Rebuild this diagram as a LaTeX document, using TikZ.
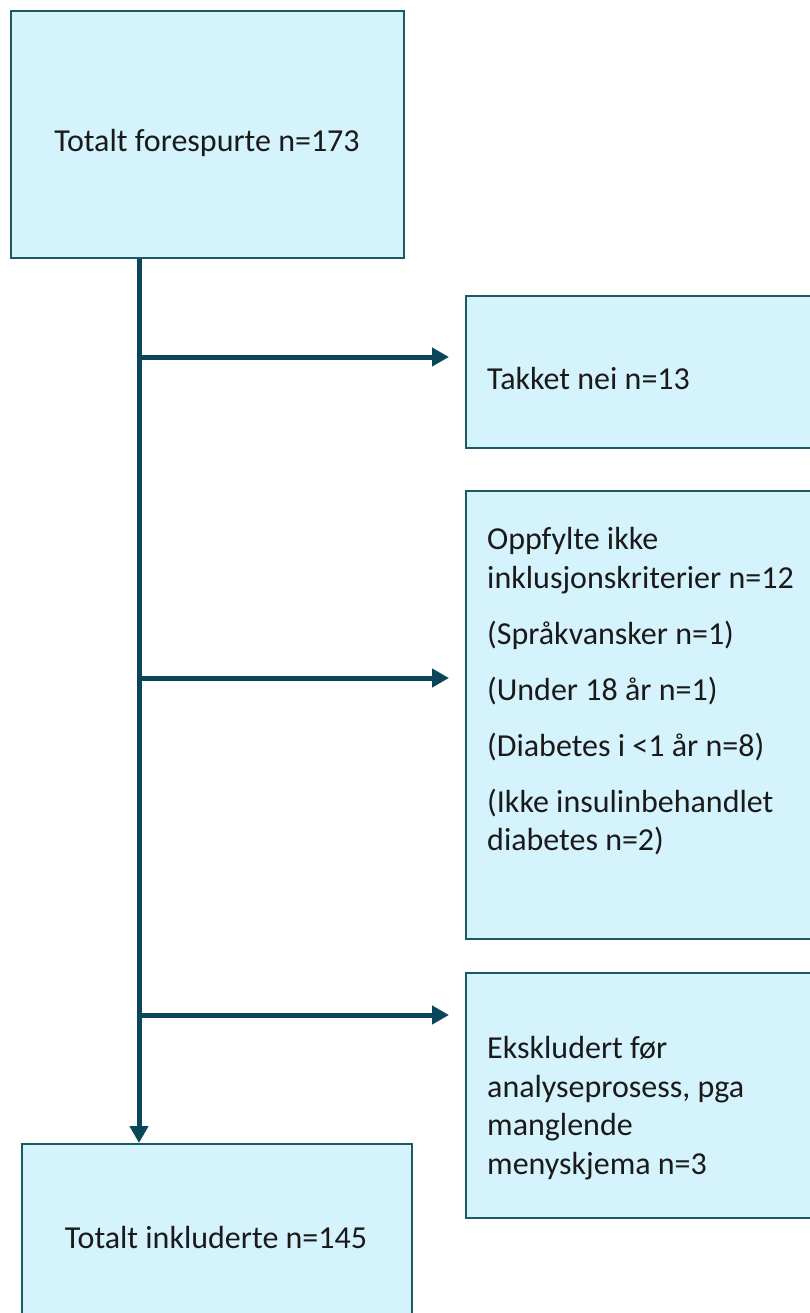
\documentclass[tikz,border=0pt]{standalone}
\usepackage{fontspec}
\setmainfont{Carlito}
\usetikzlibrary{arrows.meta}
\definecolor{boxfill}{HTML}{D5F3FD}
\definecolor{boxline}{HTML}{1B5963}
\definecolor{arrowcol}{HTML}{0A4659}
\definecolor{txt}{HTML}{1A1A1A}
\tikzset{
  flowbox/.style={draw=boxline, fill=boxfill, line width=2pt, rectangle, inner sep=0pt, anchor=north west},
  boxtext/.style={text=txt, font=\fontsize{32}{38.5}\selectfont, inner sep=0pt},
  flowline/.style={draw=arrowcol, line width=5pt},
  flowarrow/.style={flowline, -{Triangle[length=17pt,width=18pt]}},
}
\begin{document}
\begin{tikzpicture}[x=1pt,y=-1pt]
\useasboundingbox (0,0) rectangle (810,1313);
\clip (0,0) rectangle (810,1313);
% boxes
\node[flowbox, minimum width=393pt, minimum height=247pt] (top) at (10,10) {};
\node[flowbox, minimum width=360pt, minimum height=152pt] (takket) at (465,295) {};
\node[flowbox, minimum width=360pt, minimum height=448pt] (oppfylte) at (465,490) {};
\node[flowbox, minimum width=360pt, minimum height=245pt] (eksk) at (465,972) {};
\node[flowbox, minimum width=390pt, minimum height=200pt] (bottom) at (21,1143) {};
% texts
\node[boxtext, anchor=base] (ttop) at (207,152) {Totalt forespurte n=173};
\node[boxtext, anchor=base west] (ttakket) at (487,389) {Takket nei n=13};
\node[boxtext, anchor=north west, align=left] (toppf) at (487,527.5) {Oppfylte ikke\\inklusjonskriterier n=12\\[17.5pt](Språkvansker n=1)\\[17.5pt](Under 18 år n=1)\\[17.5pt](Diabetes i <1 år n=8)\\[17.5pt](Ikke insulinbehandlet\\diabetes n=2)};
\node[boxtext, anchor=north west, align=left] (teksk) at (487,1036.5) {Ekskludert før\\analyseprosess, pga\\manglende\\menyskjema n=3};
\node[boxtext, anchor=base] (tbottom) at (216,1248) {Totalt inkluderte n=145};
% junctions
\coordinate (j1) at (139,357);
\coordinate (j2) at (139,678);
\coordinate (j3) at (139,1015);
% connectors
\draw[flowarrow] (top.south -| j1) -- (bottom.north -| j1);
\draw[flowarrow, shorten >=16pt] ([xshift=-2.5pt]j1) -- (j1 -| takket.west);
\draw[flowarrow, shorten >=16pt] ([xshift=-2.5pt]j2) -- (j2 -| oppfylte.west);
\draw[flowarrow, shorten >=16pt] ([xshift=-2.5pt]j3) -- (j3 -| eksk.west);
\end{tikzpicture}
\end{document}
